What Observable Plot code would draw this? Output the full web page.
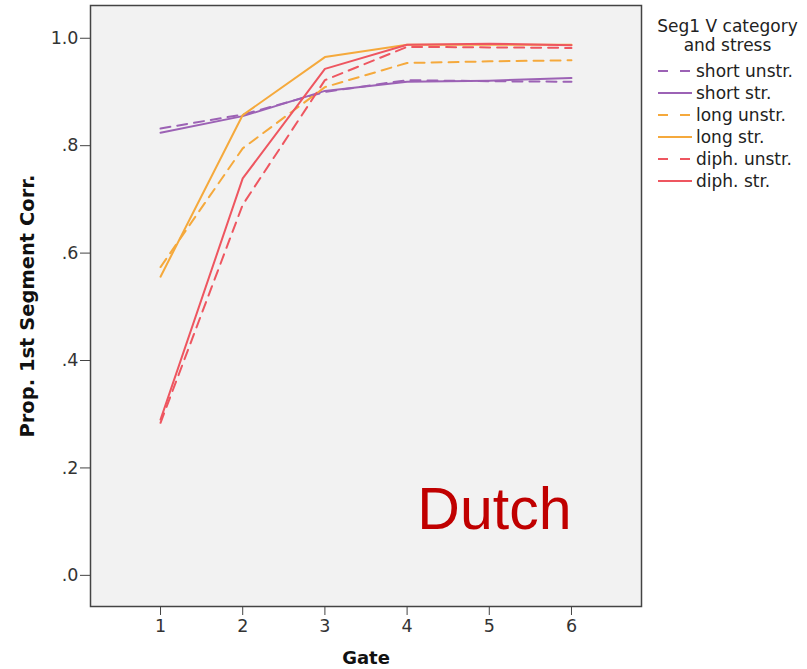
<!DOCTYPE html>
<html>
<head>
<meta charset="utf-8">
<script src="https://cdn.jsdelivr.net/npm/d3@7"></script>
<script src="https://cdn.jsdelivr.net/npm/@observablehq/plot@0.6"></script>
<style>
  html, body { margin: 0; padding: 0; background: #fff; }
  #wrap { position: relative; width: 807px; height: 669px; font-family: "DejaVu Sans", sans-serif; }
  #wrap svg [aria-label="x-axis label"] text { font-weight: bold; font-size: 18px; fill: #111; }
  #wrap svg [aria-label="y-axis label"] text { font-weight: bold; font-size: 19.5px; fill: #111; }
  #legend { position: absolute; left: 648px; top: 17px; width: 159px; font-size: 17px; color: #222; }
  #legend .title { text-align: center; line-height: 19px; margin-bottom: 5px; }
  #legend .item { display: flex; align-items: center; height: 22px; }
  #legend .item svg { margin-left: 10px; margin-right: 4px; }
</style>
</head>
<body>
<div id="wrap"></div>
<script>
const gates = [1, 2, 3, 4, 5, 6];
const seriesNames = ["short unstr.", "short str.", "long unstr.", "long str.", "diph. unstr.", "diph. str."];
const seriesColors = ["#9c62b5", "#9c62b5", "#f5a93c", "#f5a93c", "#ee5660", "#ee5660"];
const seriesDashed = [true, false, true, false, true, false];
const shortUnstr = [0.832, 0.858, 0.900, 0.922, 0.920, 0.919];
const shortStr   = [0.824, 0.855, 0.902, 0.919, 0.921, 0.926];
const longUnstr  = [0.574, 0.795, 0.909, 0.954, 0.957, 0.959];
const longStr    = [0.556, 0.857, 0.965, 0.988, 0.988, 0.988];
const diphUnstr  = [0.284, 0.690, 0.922, 0.984, 0.983, 0.982];
const diphStr    = [0.290, 0.739, 0.943, 0.988, 0.990, 0.987];
const yTicks = [0, 0.2, 0.4, 0.6, 0.8, 1.0];
const annotation = "Dutch";

const seriesValues = [shortUnstr, shortStr, longUnstr, longStr, diphUnstr, diphStr];
const rows = [];
seriesNames.forEach((name, i) => gates.forEach((g, j) => rows.push({series: name, gate: g, value: seriesValues[i][j]})));

const fmtY = d => d === 0 ? ".0" : (d >= 1 ? d3.format(".1f")(d) : d3.format(".1f")(d).replace(/^0/, ""));

const lineMarks = seriesNames.map((name, i) =>
  Plot.line(rows.filter(r => r.series === name), {
    x: "gate", y: "value",
    stroke: seriesColors[i],
    strokeWidth: 2,
    strokeDasharray: seriesDashed[i] ? "10,7" : null
  })
);

const chart = Plot.plot({
  width: 807,
  height: 669,
  marginLeft: 90,
  marginTop: 5,
  marginRight: 166,
  marginBottom: 63,
  style: { fontFamily: "DejaVu Sans, sans-serif", fontSize: "17.5px", color: "#333", background: "#fff" },
  x: { domain: [0.148, 6.852] },
  y: { domain: [-0.058, 1.061] },
  marks: [
    Plot.frame({ fill: "#f2f2f2", stroke: "none" }),
    ...lineMarks,
    Plot.frame({ stroke: "#444", strokeWidth: 1.5 }),
    Plot.axisX({ ticks: gates, tickSize: 9, tickPadding: 4, tickFormat: d => String(d), label: "Gate", labelAnchor: "center", labelArrow: "none", labelOffset: 57, stroke: "#444" }),
    Plot.axisY({ ticks: yTicks, tickSize: 10, tickPadding: 2, tickFormat: fmtY, label: "Prop. 1st Segment Corr.", labelAnchor: "center", labelArrow: "none", labelOffset: 70, stroke: "#444" }),
    Plot.text([annotation], { text: d => d, frameAnchor: "bottom-right", textAnchor: "end", lineAnchor: "bottom", dx: -70, dy: -78, fontSize: 59, fill: "#c00000", fontFamily: "Liberation Sans, sans-serif" })
  ]
});

const wrap = document.getElementById("wrap");
wrap.appendChild(chart);

const legend = document.createElement("div");
legend.id = "legend";
const title = document.createElement("div");
title.className = "title";
title.innerHTML = "Seg1 V category<br>and stress";
legend.appendChild(title);
seriesNames.forEach((name, i) => {
  const item = document.createElement("div");
  item.className = "item";
  item.innerHTML = `<svg width="34" height="10"><line x1="0" y1="5" x2="34" y2="5" stroke="${seriesColors[i]}" stroke-width="2" ${seriesDashed[i] ? 'stroke-dasharray="10,12"' : ''}/></svg><span>${name}</span>`;
  legend.appendChild(item);
});
wrap.appendChild(legend);
</script>
</body>
</html>
